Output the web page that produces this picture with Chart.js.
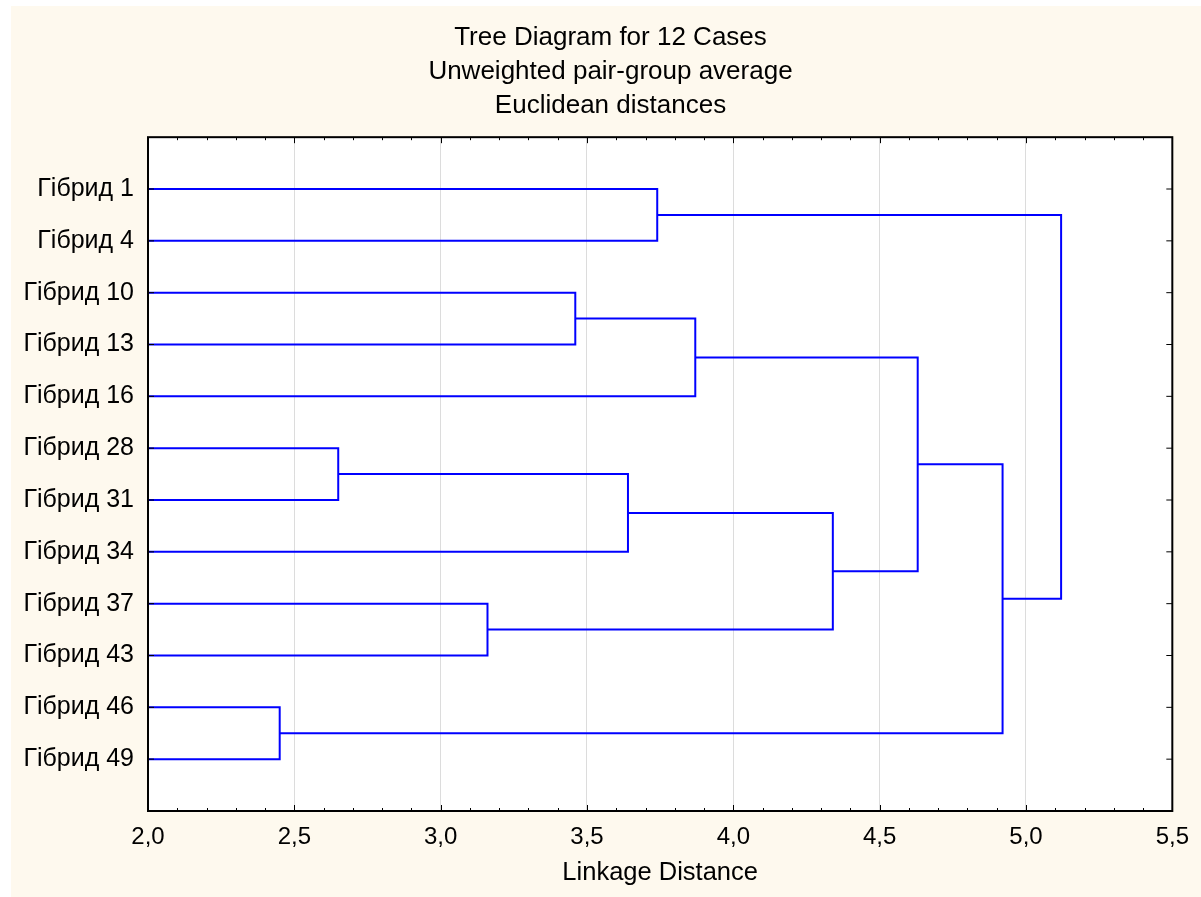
<!DOCTYPE html>
<html>
<head>
<meta charset="utf-8">
<script src="https://cdn.jsdelivr.net/npm/chart.js@4/dist/chart.umd.min.js"></script>
<style>
  html, body { margin: 0; padding: 0; background: #ffffff; }
  #wrap { width: 1201px; height: 897px; position: relative; }
</style>
</head>
<body>
<div id="wrap"><canvas id="treeChart"></canvas></div>
<script>
// leaves, top to bottom
const leafLabels = ['Гібрид 1', 'Гібрид 4', 'Гібрид 10', 'Гібрид 13', 'Гібрид 16', 'Гібрид 28',
                    'Гібрид 31', 'Гібрид 34', 'Гібрид 37', 'Гібрид 43', 'Гібрид 46', 'Гібрид 49'];

// merges: node ids 0..11 are leaves, merge k makes node 12 + k
const mergeLeft   = [10, 5, 8, 2, 13, 0, 15, 16, 18, 20, 17];
const mergeRight  = [11, 6, 9, 3, 7, 1, 4, 14, 19, 12, 21];
const mergeHeight = [2.45, 2.65, 3.16, 3.46, 3.64, 3.74, 3.87, 4.34, 4.63, 4.92, 5.12];

const xTicks = [2.0, 2.5, 3.0, 3.5, 4.0, 4.5, 5.0, 5.5];
const xMin = 2.0, xMax = 5.5;

document.addEventListener('DOMContentLoaded', function() {
    createTreeChart();
});

function buildLinks() {
    const nodeX = [], nodeY = [];
    leafLabels.forEach(function(_, i) { nodeX.push(xMin); nodeY.push(i); });
    const sets = [];
    mergeHeight.forEach(function(h, k) {
        const a = mergeLeft[k], b = mergeRight[k];
        sets.push({
            data: [
                { x: nodeX[a], y: nodeY[a] },
                { x: h, y: nodeY[a] },
                { x: h, y: nodeY[b] },
                { x: nodeX[b], y: nodeY[b] }
            ],
            showLine: true,
            borderColor: '#0000ff',
            borderWidth: 2,
            pointRadius: 0,
            fill: false,
            tension: 0
        });
        nodeX.push(h);
        nodeY.push((nodeY[a] + nodeY[b]) / 2);
    });
    return sets;
}

const frame = {
    id: 'frame',
    beforeDraw(chart) {
        const c = chart.ctx, a = chart.chartArea;
        c.save();
        c.fillStyle = '#ffffff';
        c.fillRect(0, 0, chart.width, chart.height);
        c.fillStyle = '#fef9ee';
        c.fillRect(11, 6, chart.width - 11, chart.height - 6);
        c.fillStyle = '#ffffff';
        c.fillRect(a.left, a.top, a.right - a.left, a.bottom - a.top);
        c.restore();
    },
    afterDraw(chart) {
        const c = chart.ctx, a = chart.chartArea;
        const xs = chart.scales.x, ys = chart.scales.y;
        c.save();
        c.strokeStyle = '#000000';
        c.lineWidth = 1;
        c.beginPath();
        for (let i = 0; i <= 35; i++) {
            const v = xMin + i * 0.1;
            const px = Math.round(xs.getPixelForValue(v)) + 0.5;
            const len = (i % 5 === 0) ? 6 : 3;
            c.moveTo(px, a.bottom); c.lineTo(px, a.bottom - len);
            c.moveTo(px, a.top); c.lineTo(px, a.top + len);
        }
        leafLabels.forEach(function(_, i) {
            const py = ys.getPixelForValue(i);
            c.moveTo(a.left, py); c.lineTo(a.left + 6, py);
            c.moveTo(a.right, py); c.lineTo(a.right - 6, py);
        });
        c.stroke();
        c.lineWidth = 2;
        c.strokeRect(a.left, a.top, a.right - a.left, a.bottom - a.top);
        c.restore();
    }
};

function createTreeChart() {
    const ctx = document.getElementById('treeChart').getContext('2d');
    Chart.defaults.font.family = "'Liberation Sans', Arial, sans-serif";
    Chart.defaults.color = '#000000';
    new Chart(ctx, {
        type: 'scatter',
        data: { datasets: buildLinks() },
        options: {
            responsive: true,
            maintainAspectRatio: false,
            animation: false,
            events: [],
            layout: { padding: { left: 20, right: 0, top: 0, bottom: 0 } },
            scales: {
                x: {
                    type: 'linear',
                    min: xMin,
                    max: xMax,
                    afterBuildTicks: function(scale) {
                        scale.ticks = xTicks.map(function(v) { return { value: v }; });
                    },
                    afterFit: function(scale) { scale.height = 86; },
                    ticks: {
                        font: { size: 24 },
                        padding: 12,
                        maxRotation: 0,
                        callback: function(v) { return v.toFixed(1).replace('.', ','); }
                    },
                    grid: { color: '#dcdcdc', lineWidth: 1, drawTicks: false },
                    border: { display: false },
                    title: {
                        display: true,
                        text: 'Linkage Distance',
                        font: { size: 25.5 },
                        padding: { top: 0, bottom: 9 }
                    }
                },
                y: {
                    type: 'linear',
                    min: -1,
                    max: 12,
                    reverse: true,
                    afterBuildTicks: function(scale) {
                        scale.ticks = leafLabels.map(function(_, i) { return { value: i }; });
                    },
                    afterFit: function(scale) { scale.width = 128; },
                    ticks: {
                        font: { size: 25 },
                        padding: 14,
                        autoSkip: false,
                        callback: function(v) { return leafLabels[v] || ''; }
                    },
                    grid: { display: false, drawTicks: false },
                    border: { display: false }
                },
                yRight: {
                    type: 'linear',
                    position: 'right',
                    min: -1,
                    max: 12,
                    reverse: true,
                    afterFit: function(scale) { scale.width = 27; },
                    ticks: { display: false },
                    grid: { display: false, drawTicks: false },
                    border: { display: false }
                }
            },
            plugins: {
                legend: { display: false },
                tooltip: { enabled: false },
                title: {
                    display: true,
                    text: ['Tree Diagram for 12 Cases', 'Unweighted pair-group average', 'Euclidean distances'],
                    font: { size: 26, weight: 'normal', lineHeight: 1.31 },
                    padding: { top: 21, bottom: 14 }
                }
            }
        },
        plugins: [frame]
    });
}
</script>
</body>
</html>
